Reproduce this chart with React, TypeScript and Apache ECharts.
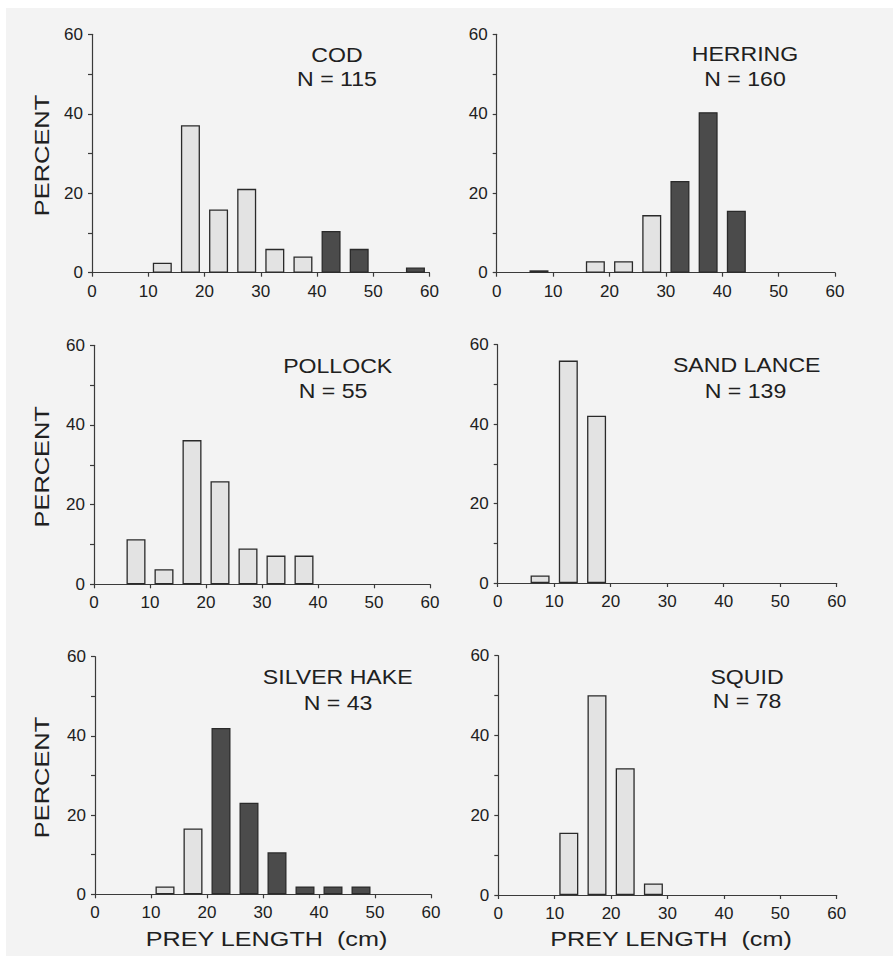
import React, { useEffect, useRef } from "react";
import * as echarts from "echarts";

// Length bins (cm): 0-5, 5-10, ... 55-60, plotted at their centres
const binCenters = [2.5, 7.5, 12.5, 17.5, 22.5, 27.5, 32.5, 37.5, 42.5, 47.5, 52.5, 57.5];
const xTicks = [0, 10, 20, 30, 40, 50, 60];
const yTicks = [0, 20, 40, 60];

const codValues = [0, 0, 2.5, 37.1, 15.9, 21.1, 6.0, 4.1, 10.5, 6.0, 0, 1.3];
const codShaded = [0, 0, 0, 0, 0, 0, 0, 0, 1, 1, 0, 1];
const herringValues = [0, 0.6, 0, 2.9, 2.9, 14.5, 23.1, 40.4, 15.6, 0, 0, 0];
const herringShaded = [0, 1, 0, 0, 0, 0, 1, 1, 1, 0, 0, 0];
const pollockValues = [0, 11.3, 3.8, 36.2, 25.9, 9.0, 7.2, 7.2, 0, 0, 0, 0];
const pollockShaded = [0, 0, 0, 0, 0, 0, 0, 0, 0, 0, 0, 0];
const sandLanceValues = [0, 1.9, 56.0, 42.1, 0, 0, 0, 0, 0, 0, 0, 0];
const sandLanceShaded = [0, 0, 0, 0, 0, 0, 0, 0, 0, 0, 0, 0];
const silverHakeValues = [0, 0, 2.0, 16.6, 42.0, 23.1, 10.6, 2.0, 2.0, 2.0, 0, 0];
const silverHakeShaded = [0, 0, 0, 0, 1, 1, 1, 1, 1, 1, 0, 0];
const squidValues = [0, 0, 15.6, 50.1, 31.8, 2.9, 0, 0, 0, 0, 0, 0];
const squidShaded = [0, 0, 0, 0, 0, 0, 0, 0, 0, 0, 0, 0];

const speciesNames = ["COD", "HERRING", "POLLOCK", "SAND LANCE", "SILVER HAKE", "SQUID"];
const sampleSizes = ["N = 115", "N = 160", "N = 55", "N = 139", "N = 43", "N = 78"];
const yAxisTitle = "PERCENT";
const xAxisTitle = "PREY LENGTH  (cm)";

const allValues = [codValues, herringValues, pollockValues, sandLanceValues, silverHakeValues, squidValues];
const allShaded = [codShaded, herringShaded, pollockShaded, sandLanceShaded, silverHakeShaded, squidShaded];

// layout (page coordinates) ----------------------------------------
const OX = 6;
const OY = 8;
const FONT = '"Liberation Sans", Arial, Helvetica, sans-serif';
const TEXT = "#202020";
const AXIS = "#3a3a3a";
const LIGHT = "#e3e3e3";
const DARK = "#4b4b4b";
const EDGE = "#2a2a2a";
const BG = "#f3f3f3";

const panels = [
  { l: 92, r: 429.5, t: 34.3, b: 272.7, tx: 337, ty1: 55, nx: 337, ty2: 79.2 },
  { l: 496.7, r: 835, t: 34.3, b: 272.7, tx: 745, ty1: 54.2, nx: 745, ty2: 79.2 },
  { l: 94, r: 430, t: 345.3, b: 584.3, tx: 337.7, ty1: 366.2, nx: 333, ty2: 391 },
  { l: 497.7, r: 836.7, t: 344.7, b: 583, tx: 746.7, ty1: 364.7, nx: 745.5, ty2: 390.8 },
  { l: 95, r: 431, t: 656.7, b: 894.3, tx: 337.7, ty1: 677.2, nx: 338, ty2: 702.5 },
  { l: 498.3, r: 836.7, t: 655.7, b: 895, tx: 747, ty1: 676.7, nx: 747, ty2: 701.3 },
];

function buildOption() {
  const grid: any[] = [];
  const xAxis: any[] = [];
  const yAxis: any[] = [];
  const series: any[] = [];
  const graphic: any[] = [];

  panels.forEach((p, i) => {
    grid.push({
      left: p.l - OX,
      top: p.t - OY,
      width: p.r - p.l,
      height: p.b - p.t,
      containLabel: false,
    });
    xAxis.push({
      type: "value",
      gridIndex: i,
      min: xTicks[0],
      max: xTicks[xTicks.length - 1],
      interval: xTicks[1] - xTicks[0],
      axisLine: { show: true, onZero: false, lineStyle: { color: AXIS, width: 1.2 } },
      axisTick: { show: true, length: 4, lineStyle: { color: AXIS, width: 1.2 } },
      axisLabel: { show: true, color: TEXT, fontSize: 17, fontFamily: FONT, margin: 10, showMinLabel: true, showMaxLabel: true },
      splitLine: { show: false },
    });
    yAxis.push({
      type: "value",
      gridIndex: i,
      min: yTicks[0],
      max: yTicks[yTicks.length - 1],
      interval: yTicks[1] - yTicks[0],
      axisLine: { show: true, onZero: false, lineStyle: { color: AXIS, width: 1.2 } },
      axisTick: { show: true, length: 4, lineStyle: { color: AXIS, width: 1.2 } },
      minorTick: { show: true, splitNumber: 2, length: 4, lineStyle: { color: AXIS, width: 1.2 } },
      axisLabel: { show: true, color: TEXT, fontSize: 17, fontFamily: FONT, margin: 9 },
      splitLine: { show: false },
      minorSplitLine: { show: false },
    });
    const data: any[] = [];
    binCenters.forEach((c, k) => {
      const v = allValues[i][k];
      if (v > 0) {
        data.push({
          value: [c, v],
          itemStyle: { color: allShaded[i][k] ? DARK : LIGHT, borderColor: EDGE, borderWidth: 1.3 },
        });
      }
    });
    series.push({
      type: "bar",
      xAxisIndex: i,
      yAxisIndex: i,
      barWidth: 19,
      data,
      silent: true,
    });

    graphic.push({
      type: "text",
      x: p.tx - OX,
      y: p.ty1 - OY,
      scaleX: 1.1,
      style: {
        text: speciesNames[i],
        fill: TEXT,
        font: `21px ${FONT}`,
        textAlign: "center",
        textVerticalAlign: "middle",
        align: "center",
        verticalAlign: "middle",
      },
    });
    graphic.push({
      type: "text",
      x: p.nx - OX,
      y: p.ty2 - OY,
      scaleX: 1.1,
      style: {
        text: sampleSizes[i],
        fill: TEXT,
        font: `21px ${FONT}`,
        textAlign: "center",
        textVerticalAlign: "middle",
        align: "center",
        verticalAlign: "middle",
      },
    });
  });

  // PERCENT labels (left column)
  [0, 2, 4].forEach((i) => {
    const p = panels[i];
    graphic.push({
      type: "text",
      x: 42 - OX,
      y: (p.t + p.b) / 2 + 2 - OY,
      rotation: Math.PI / 2,
      scaleX: 1.27,
      style: {
        text: yAxisTitle,
        fill: TEXT,
        font: `20px ${FONT}`,
        textAlign: "center",
        textVerticalAlign: "middle",
        align: "center",
        verticalAlign: "middle",
      },
    });
  });

  // PREY LENGTH labels (bottom row)
  [4, 5].forEach((i) => {
    const p = panels[i];
    graphic.push({
      type: "text",
      x: (p.l + p.r) / 2 + 3.5 - OX,
      y: 939.2 - OY,
      scaleX: 1.2,
      style: {
        text: xAxisTitle,
        fill: TEXT,
        font: `21px ${FONT}`,
        textAlign: "center",
        textVerticalAlign: "middle",
        align: "center",
        verticalAlign: "middle",
      },
    });
  });

  return {
    animation: false,
    backgroundColor: BG,
    grid,
    xAxis,
    yAxis,
    series,
    graphic,
  };
}

export default function App() {
  const ref = useRef<HTMLDivElement>(null);
  useEffect(() => {
    if (!ref.current) return;
    const chart = echarts.init(ref.current, null, { renderer: "svg" });
    chart.setOption(buildOption() as any);
    return () => chart.dispose();
  }, []);
  return (
    <div style={{ position: "absolute", left: 0, top: 0, width: 893, height: 956, background: "#ffffff", overflow: "hidden" }}>
      <div ref={ref} style={{ position: "absolute", left: OX, top: OY, width: 893 - OX, height: 956 - OY }} />
    </div>
  );
}
